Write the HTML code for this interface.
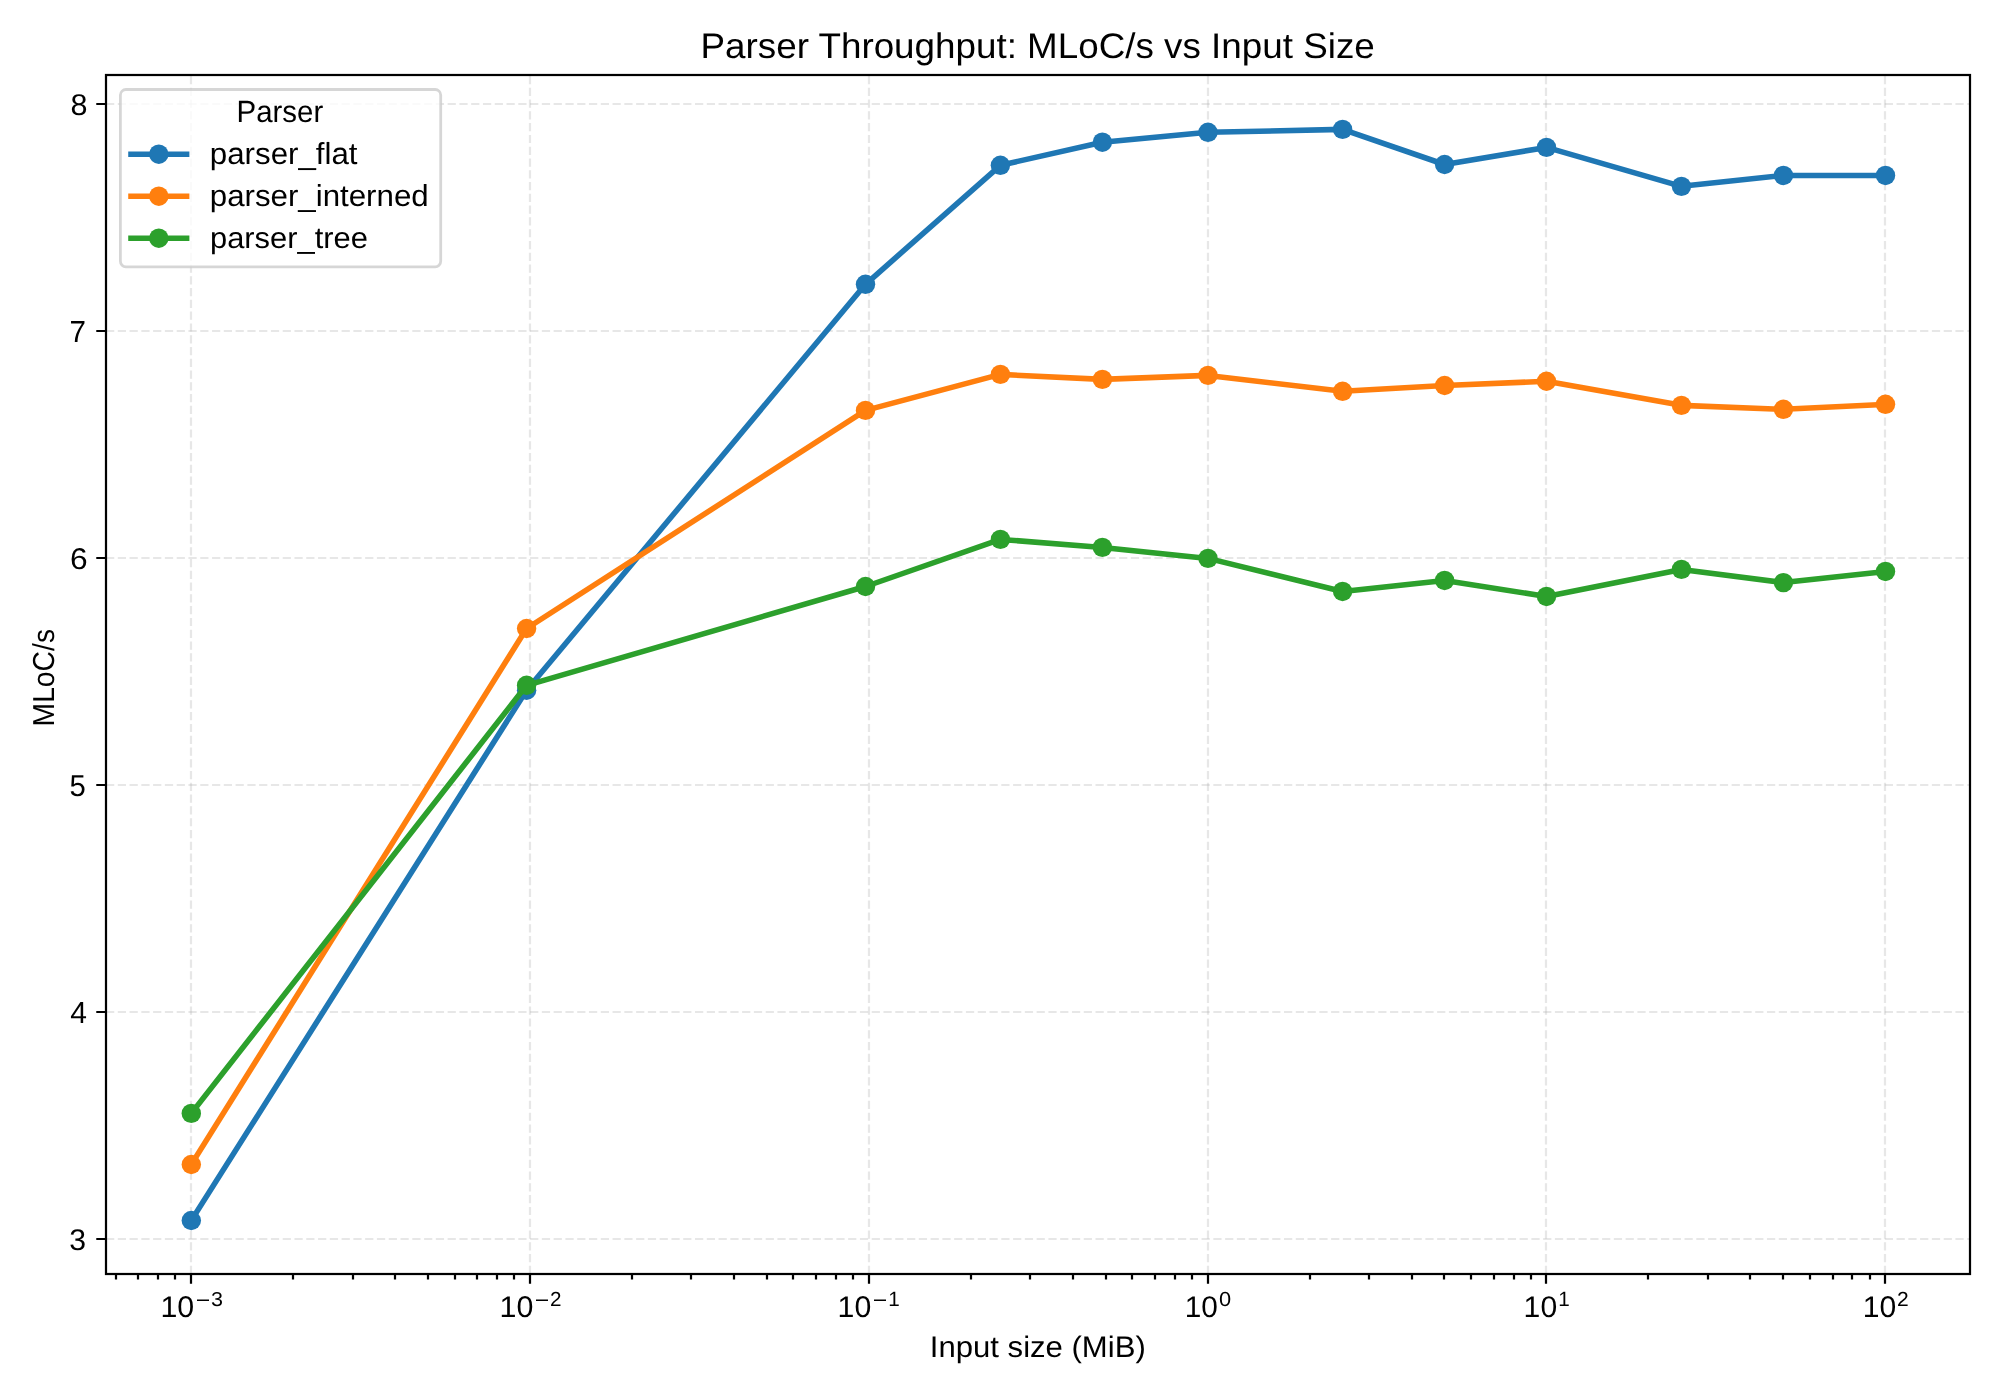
<!DOCTYPE html><html><head><meta charset="utf-8"><style>html,body{margin:0;padding:0;background:#fff;overflow:hidden}svg{display:block;will-change:transform}text{font-family:"Liberation Sans", sans-serif;fill:#000;text-rendering:geometricPrecision}</style></head><body>
<svg width="2000" height="1400" viewBox="0 0 2000 1400">
<rect x="0" y="0" width="2000" height="1400" fill="#fff"/>
<defs><clipPath id="ax"><rect x="106" y="75" width="1864" height="1199"/></clipPath></defs>
<g clip-path="url(#ax)" stroke="#b0b0b0" stroke-opacity="0.3" stroke-width="2.22" fill="none">
<line x1="191" y1="1274" x2="191" y2="75" stroke-dasharray="8.22 3.56"/>
<line x1="530" y1="1274" x2="530" y2="75" stroke-dasharray="8.22 3.56"/>
<line x1="869" y1="1274" x2="869" y2="75" stroke-dasharray="8.22 3.56"/>
<line x1="1208" y1="1274" x2="1208" y2="75" stroke-dasharray="8.22 3.56"/>
<line x1="1546" y1="1274" x2="1546" y2="75" stroke-dasharray="8.22 3.56"/>
<line x1="1885" y1="1274" x2="1885" y2="75" stroke-dasharray="8.22 3.56"/>
<line x1="106" y1="1239" x2="1970" y2="1239" stroke-dasharray="8.22 3.56"/>
<line x1="106" y1="1012" x2="1970" y2="1012" stroke-dasharray="8.22 3.56"/>
<line x1="106" y1="785" x2="1970" y2="785" stroke-dasharray="8.22 3.56"/>
<line x1="106" y1="558" x2="1970" y2="558" stroke-dasharray="8.22 3.56"/>
<line x1="106" y1="331" x2="1970" y2="331" stroke-dasharray="8.22 3.56"/>
<line x1="106" y1="104" x2="1970" y2="104" stroke-dasharray="8.22 3.56"/>
</g>
<g clip-path="url(#ax)">
<polyline points="191.30,1220.50 526.60,690.20 865.50,284.30 1000.40,165.30 1102.40,142.20 1208.00,132.30 1342.60,129.40 1444.60,164.50 1546.50,147.40 1681.45,186.35 1783.45,175.45 1885.50,175.45" fill="none" stroke="#1f77b4" stroke-width="5.56" stroke-linejoin="round" stroke-linecap="square"/>
<circle cx="191.30" cy="1220.50" r="9.72" fill="#1f77b4"/>
<circle cx="526.60" cy="690.20" r="9.72" fill="#1f77b4"/>
<circle cx="865.50" cy="284.30" r="9.72" fill="#1f77b4"/>
<circle cx="1000.40" cy="165.30" r="9.72" fill="#1f77b4"/>
<circle cx="1102.40" cy="142.20" r="9.72" fill="#1f77b4"/>
<circle cx="1208.00" cy="132.30" r="9.72" fill="#1f77b4"/>
<circle cx="1342.60" cy="129.40" r="9.72" fill="#1f77b4"/>
<circle cx="1444.60" cy="164.50" r="9.72" fill="#1f77b4"/>
<circle cx="1546.50" cy="147.40" r="9.72" fill="#1f77b4"/>
<circle cx="1681.45" cy="186.35" r="9.72" fill="#1f77b4"/>
<circle cx="1783.45" cy="175.45" r="9.72" fill="#1f77b4"/>
<circle cx="1885.50" cy="175.45" r="9.72" fill="#1f77b4"/>
<polyline points="191.30,1164.50 526.60,628.50 865.50,410.40 1000.40,374.40 1102.40,379.40 1208.00,375.40 1342.60,391.30 1444.60,385.50 1546.50,381.25 1681.45,405.35 1783.45,409.30 1885.50,404.30" fill="none" stroke="#ff7f0e" stroke-width="5.56" stroke-linejoin="round" stroke-linecap="square"/>
<circle cx="191.30" cy="1164.50" r="9.72" fill="#ff7f0e"/>
<circle cx="526.60" cy="628.50" r="9.72" fill="#ff7f0e"/>
<circle cx="865.50" cy="410.40" r="9.72" fill="#ff7f0e"/>
<circle cx="1000.40" cy="374.40" r="9.72" fill="#ff7f0e"/>
<circle cx="1102.40" cy="379.40" r="9.72" fill="#ff7f0e"/>
<circle cx="1208.00" cy="375.40" r="9.72" fill="#ff7f0e"/>
<circle cx="1342.60" cy="391.30" r="9.72" fill="#ff7f0e"/>
<circle cx="1444.60" cy="385.50" r="9.72" fill="#ff7f0e"/>
<circle cx="1546.50" cy="381.25" r="9.72" fill="#ff7f0e"/>
<circle cx="1681.45" cy="405.35" r="9.72" fill="#ff7f0e"/>
<circle cx="1783.45" cy="409.30" r="9.72" fill="#ff7f0e"/>
<circle cx="1885.50" cy="404.30" r="9.72" fill="#ff7f0e"/>
<polyline points="191.30,1113.40 526.60,685.30 865.50,586.50 1000.40,539.40 1102.40,547.40 1208.00,558.40 1342.60,591.45 1444.60,580.45 1546.50,596.45 1681.45,569.40 1783.45,582.60 1885.50,571.45" fill="none" stroke="#2ca02c" stroke-width="5.56" stroke-linejoin="round" stroke-linecap="square"/>
<circle cx="191.30" cy="1113.40" r="9.72" fill="#2ca02c"/>
<circle cx="526.60" cy="685.30" r="9.72" fill="#2ca02c"/>
<circle cx="865.50" cy="586.50" r="9.72" fill="#2ca02c"/>
<circle cx="1000.40" cy="539.40" r="9.72" fill="#2ca02c"/>
<circle cx="1102.40" cy="547.40" r="9.72" fill="#2ca02c"/>
<circle cx="1208.00" cy="558.40" r="9.72" fill="#2ca02c"/>
<circle cx="1342.60" cy="591.45" r="9.72" fill="#2ca02c"/>
<circle cx="1444.60" cy="580.45" r="9.72" fill="#2ca02c"/>
<circle cx="1546.50" cy="596.45" r="9.72" fill="#2ca02c"/>
<circle cx="1681.45" cy="569.40" r="9.72" fill="#2ca02c"/>
<circle cx="1783.45" cy="582.60" r="9.72" fill="#2ca02c"/>
<circle cx="1885.50" cy="571.45" r="9.72" fill="#2ca02c"/>
</g>
<rect x="106" y="75" width="1864" height="1199" fill="none" stroke="#000" stroke-width="2.22" stroke-linejoin="miter"/>
<path d="M191 1274 V1283.72 M530 1274 V1283.72 M869 1274 V1283.72 M1208 1274 V1283.72 M1546 1274 V1283.72 M1885 1274 V1283.72 M116 1274 V1279.56 M138 1274 V1279.56 M158 1274 V1279.56 M175 1274 V1279.56 M293 1274 V1279.56 M353 1274 V1279.56 M395 1274 V1279.56 M428 1274 V1279.56 M455 1274 V1279.56 M477 1274 V1279.56 M497 1274 V1279.56 M514 1274 V1279.56 M632 1274 V1279.56 M691 1274 V1279.56 M734 1274 V1279.56 M767 1274 V1279.56 M793 1274 V1279.56 M816 1274 V1279.56 M836 1274 V1279.56 M853 1274 V1279.56 M971 1274 V1279.56 M1030 1274 V1279.56 M1073 1274 V1279.56 M1106 1274 V1279.56 M1132 1274 V1279.56 M1155 1274 V1279.56 M1175 1274 V1279.56 M1192 1274 V1279.56 M1310 1274 V1279.56 M1369 1274 V1279.56 M1412 1274 V1279.56 M1444 1274 V1279.56 M1471 1274 V1279.56 M1494 1274 V1279.56 M1514 1274 V1279.56 M1531 1274 V1279.56 M1648 1274 V1279.56 M1708 1274 V1279.56 M1750 1274 V1279.56 M1783 1274 V1279.56 M1810 1274 V1279.56 M1833 1274 V1279.56 M1852 1274 V1279.56 M1870 1274 V1279.56 M106 1239 H96.28 M106 1012 H96.28 M106 785 H96.28 M106 558 H96.28 M106 331 H96.28 M106 104 H96.28" stroke="#000" stroke-width="2.22" fill="none"/>
<rect x="120.4" y="89.5" width="320.3" height="177.3" rx="5.56" ry="5.56" fill="#fff" fill-opacity="0.8" stroke="#cccccc" stroke-opacity="0.8" stroke-width="2.78"/>
<path d="M131 154.20 H186.6" stroke="#1f77b4" stroke-width="5.56" stroke-linecap="square"/>
<circle cx="158.8" cy="154.20" r="9.72" fill="#1f77b4"/>
<path d="M131 196.20 H186.6" stroke="#ff7f0e" stroke-width="5.56" stroke-linecap="square"/>
<circle cx="158.8" cy="196.20" r="9.72" fill="#ff7f0e"/>
<path d="M131 238.20 H186.6" stroke="#2ca02c" stroke-width="5.56" stroke-linecap="square"/>
<circle cx="158.8" cy="238.20" r="9.72" fill="#2ca02c"/>
<text x="69.32" y="1249.56" font-size="29.87" textLength="16.80" lengthAdjust="spacingAndGlyphs">3</text>
<text x="70.22" y="1023.12" font-size="30.42" textLength="16.71" lengthAdjust="spacingAndGlyphs">4</text>
<text x="69.44" y="795.88" font-size="30.01" textLength="16.30" lengthAdjust="spacingAndGlyphs">5</text>
<text x="69.93" y="568.58" font-size="29.95" textLength="17.61" lengthAdjust="spacingAndGlyphs">6</text>
<text x="69.60" y="342.05" font-size="30.37" textLength="16.47" lengthAdjust="spacingAndGlyphs">7</text>
<text x="70.49" y="114.73" font-size="29.87" textLength="16.96" lengthAdjust="spacingAndGlyphs">8</text>
<text x="160.44" y="1316.82" font-size="29.94" textLength="33.77" lengthAdjust="spacingAndGlyphs">10</text>
<text x="211.13" y="1305.63" font-size="20.12" textLength="11.97" lengthAdjust="spacingAndGlyphs">3</text>
<rect x="197" y="1299.5" width="12" height="1.5" fill="#000"/>
<text x="499.49" y="1316.81" font-size="29.93" textLength="33.85" lengthAdjust="spacingAndGlyphs">10</text>
<text x="549.96" y="1305.80" font-size="20.30" textLength="11.49" lengthAdjust="spacingAndGlyphs">2</text>
<rect x="536" y="1299.5" width="12" height="1.5" fill="#000"/>
<text x="837.55" y="1316.81" font-size="29.93" textLength="33.69" lengthAdjust="spacingAndGlyphs">10</text>
<text x="888.29" y="1305.80" font-size="20.59" textLength="11.51" lengthAdjust="spacingAndGlyphs">1</text>
<rect x="874" y="1299.5" width="12" height="1.5" fill="#000"/>
<text x="1184.77" y="1316.81" font-size="29.86" textLength="33.15" lengthAdjust="spacingAndGlyphs">10</text>
<text x="1219.14" y="1305.60" font-size="20.28" textLength="12.15" lengthAdjust="spacingAndGlyphs">0</text>
<text x="1523.63" y="1317.00" font-size="29.78" textLength="33.54" lengthAdjust="spacingAndGlyphs">10</text>
<text x="1558.29" y="1305.79" font-size="20.58" textLength="11.51" lengthAdjust="spacingAndGlyphs">1</text>
<text x="1862.75" y="1316.64" font-size="29.93" textLength="33.50" lengthAdjust="spacingAndGlyphs">10</text>
<text x="1897.11" y="1305.79" font-size="20.25" textLength="11.69" lengthAdjust="spacingAndGlyphs">2</text>
<text x="929.84" y="1357.07" font-size="29.83" textLength="215.91" lengthAdjust="spacingAndGlyphs">Input size (MiB)</text>
<text transform="translate(54.04,726.44) rotate(-90)" x="0" y="0" font-size="30.31" textLength="97.49" lengthAdjust="spacingAndGlyphs">MLoC/s</text>
<text x="700.56" y="57.90" font-size="35.55" textLength="674.20" lengthAdjust="spacingAndGlyphs">Parser Throughput: MLoC/s vs Input Size</text>
<text x="236.59" y="121.56" font-size="30.73" textLength="86.68" lengthAdjust="spacingAndGlyphs">Parser</text>
<text x="209.85" y="163.66" font-size="30.47" textLength="147.71" lengthAdjust="spacingAndGlyphs">parser_flat</text>
<text x="209.80" y="205.56" font-size="30.26" textLength="218.85" lengthAdjust="spacingAndGlyphs">parser_interned</text>
<text x="209.99" y="248.33" font-size="29.71" textLength="157.84" lengthAdjust="spacingAndGlyphs">parser_tree</text>
</svg></body></html>
